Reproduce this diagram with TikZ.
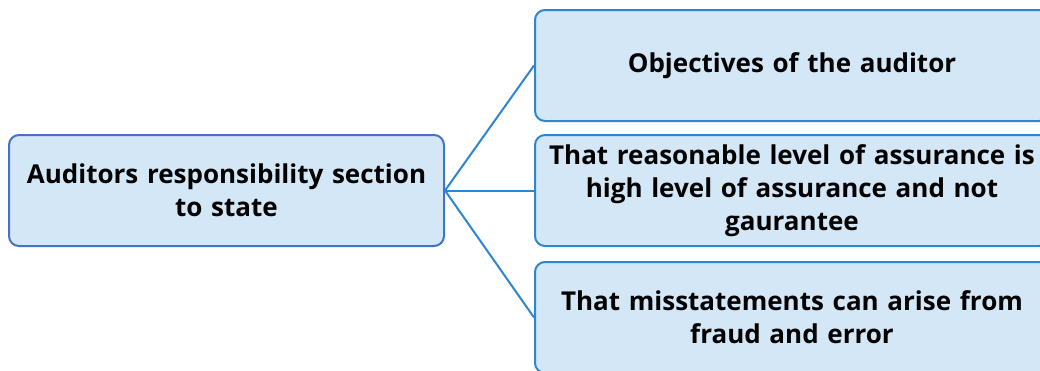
\documentclass[tikz,border=0pt]{standalone}
\usepackage{fontspec}
\setmainfont{Open Sans}
\usetikzlibrary{positioning}

\definecolor{boxfill}{HTML}{D3E7F6}
\definecolor{rootline}{HTML}{4472C4}
\definecolor{leafline}{HTML}{2E86D0}

\tikzset{
  rootbox/.style={draw=rootline, fill=boxfill, rounded corners=10pt, line width=2pt,
    minimum width=435pt, minimum height=111pt, text width=425pt, align=center,
    font=\fontsize{26}{33}\selectfont\bfseries},
  leafbox/.style={rootbox, draw=leafline, minimum width=514pt, text width=504pt},
  link/.style={draw=leafline, line width=2pt}
}

\begin{document}
\begin{tikzpicture}[x=1pt,y=-1pt]
		
		%Page frame
		\useasboundingbox (0,0) rectangle (1040,370);
		\clip (0,0) rectangle (1040,370);
		
		%Root and leaves
		\node [rootbox] (root) at (226.5,190.5) {Auditors responsibility section\\to state};
		\node [leafbox] (obj) at (792,65.5) {Objectives of the auditor};
		\node [leafbox] (assur) at (792,190.5) {That reasonable level of assurance is\\high level of assurance and not\\gaurantee};
		\node [leafbox] (fraud) at (792,317.5) {That misstatements can arise from\\fraud and error};
		
		%Connectors
		\draw [link] (root.east) -- (obj.west);
		\draw [link] (root.east) -- (assur.west);
		\draw [link] (root.east) -- (fraud.west);
	\end{tikzpicture}
\end{document}
